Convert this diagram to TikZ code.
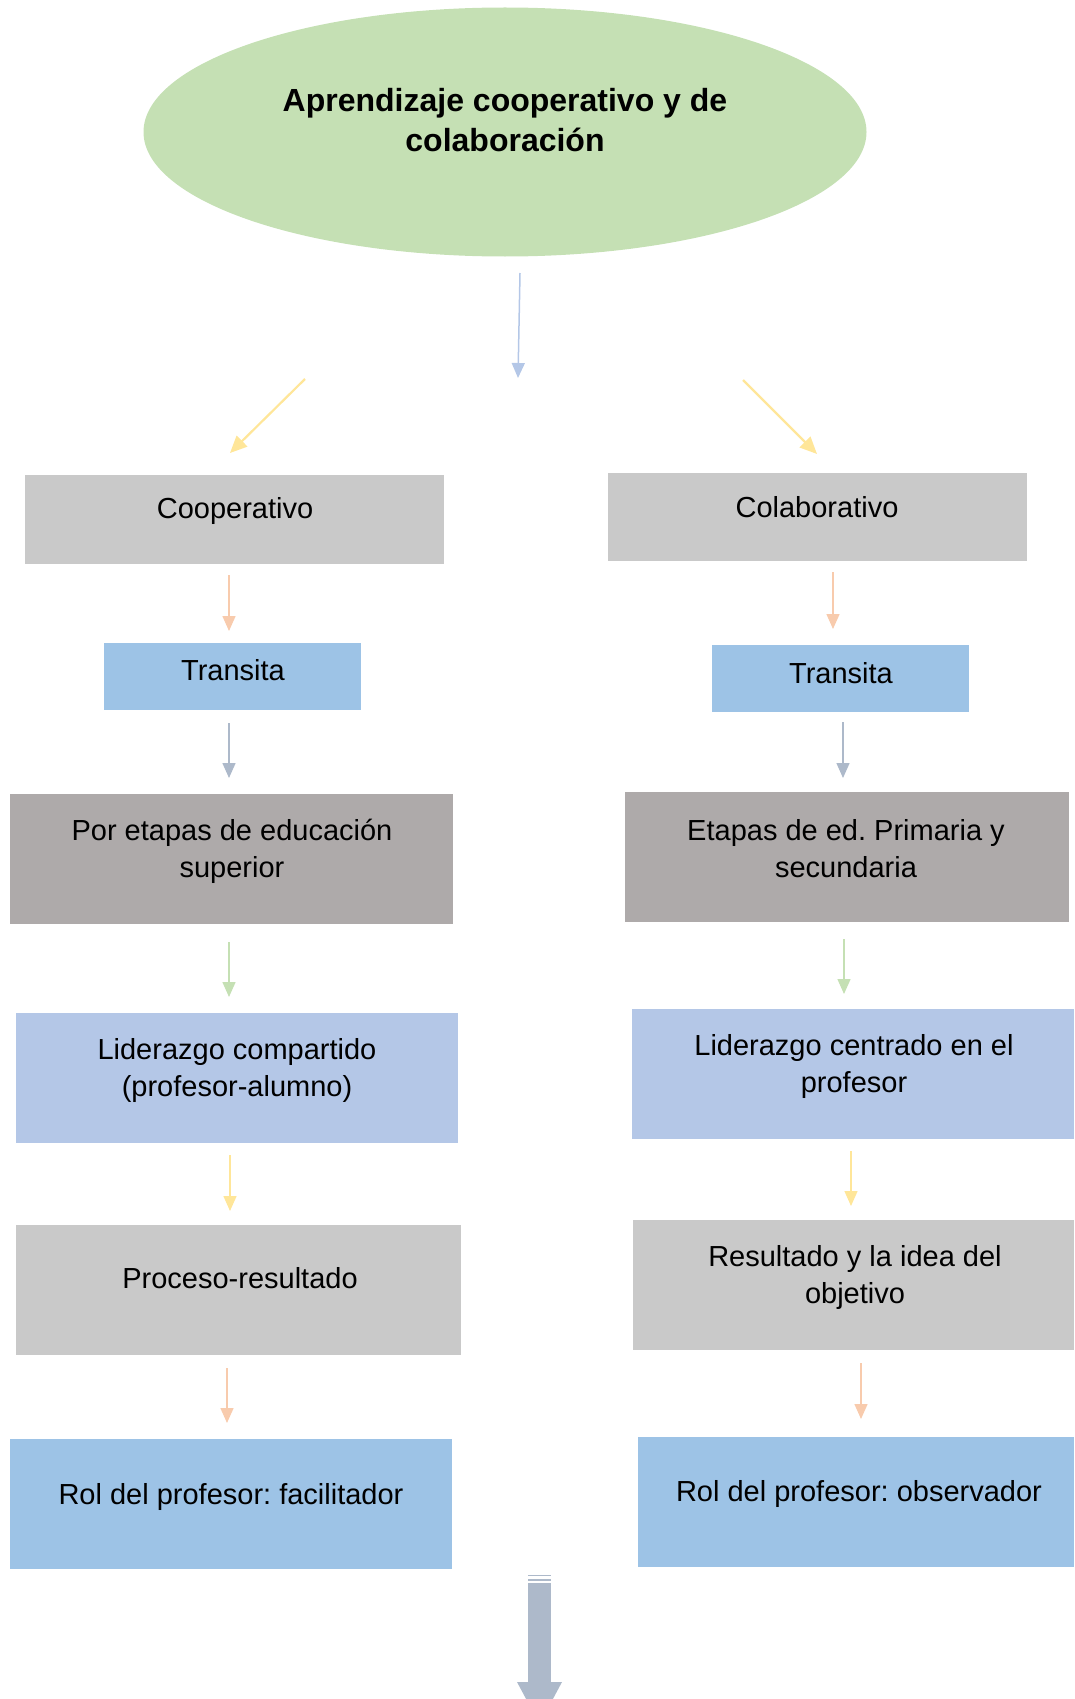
\documentclass[tikz,border=0pt]{standalone}
\usepackage{fontspec}
\setmainfont{Liberation Sans}
\frenchspacing
\usetikzlibrary{shapes.geometric,arrows.meta}
\definecolor{cgreen}{HTML}{C5E0B4}
\definecolor{cgrey}{HTML}{C9C9C9}
\definecolor{cblue}{HTML}{9DC3E6}
\definecolor{cdgrey}{HTML}{AEAAAA}
\definecolor{clblue}{HTML}{B4C7E7}
\definecolor{cyellow}{HTML}{FFE699}
\definecolor{cpeach}{HTML}{F8CBAD}
\definecolor{cgb}{HTML}{ADB9CA}
\tikzset{
  boxnode/.style={draw=none,inner sep=0pt,anchor=north west},
  txt/.style={font=\fontsize{29}{37}\selectfont\frenchspacing,align=center,inner sep=0pt,text=black},
  arr/.style={line width=1.5pt,-{Triangle[length=15pt,width=13pt]}},
  darr/.style={line width=2.2pt,-{Triangle[length=17pt,width=15pt]}}
}
\begin{document}
\begin{tikzpicture}[x=1pt,y=-1pt]
\useasboundingbox (0,0) rectangle (1074,1699);
% title
\node[ellipse,fill=cgreen,minimum width=723pt,minimum height=249pt,inner sep=0pt] (top) at (505,132) {};
\node[font=\fontsize{32}{40}\selectfont\bfseries,align=center,inner sep=0pt] (toptxt) at (505,120) {Aprendizaje cooperativo y de\\colaboración};
% arrows from title
\coordinate (m1) at (520,273); \coordinate (m2) at (518,378);
\draw[arr,draw=clblue,fill=clblue] (m1) -- (m2);
\coordinate (l1) at (305,379); \coordinate (l2) at (230,453);
\draw[darr,draw=cyellow,fill=cyellow] (l1) -- (l2);
\coordinate (r1) at (743,380); \coordinate (r2) at (817,454);
\draw[darr,draw=cyellow,fill=cyellow] (r1) -- (r2);
% row 1
\node[boxnode,fill=cgrey,minimum width=419pt,minimum height=89pt] (coop) at (25,475) {};
\node[txt] (cooptxt) at (235,511) {Cooperativo};
\node[boxnode,fill=cgrey,minimum width=419pt,minimum height=88pt] (cola) at (608,473) {};
\node[txt] (colatxt) at (817,507) {Colaborativo};
% arrows
\coordinate (a1) at (229,575); \coordinate (a2) at (229,631);
\draw[arr,draw=cpeach,fill=cpeach] (a1) -- (a2);
\coordinate (b1) at (833,572); \coordinate (b2) at (833,629);
\draw[arr,draw=cpeach,fill=cpeach] (b1) -- (b2);
% row 2
\node[boxnode,fill=cblue,minimum width=257pt,minimum height=67pt] (trl) at (104,643) {};
\node[txt] (trltxt) at (233,670) {Transita};
\node[boxnode,fill=cblue,minimum width=257pt,minimum height=67pt] (trr) at (712,645) {};
\node[txt] (trrtxt) at (841,673) {Transita};
% arrows
\coordinate (c1) at (229,723); \coordinate (c2) at (229,778);
\draw[arr,draw=cgb,fill=cgb] (c1) -- (c2);
\coordinate (d1) at (843,722); \coordinate (d2) at (843,778);
\draw[arr,draw=cgb,fill=cgb] (d1) -- (d2);
% row 3
\node[boxnode,fill=cdgrey,minimum width=443pt,minimum height=130pt] (etl) at (10,794) {};
\node[txt] (etltxt) at (232,851) {Por etapas de educación\\superior};
\node[boxnode,fill=cdgrey,minimum width=444pt,minimum height=130pt] (etr) at (625,792) {};
\node[txt] (etrtxt) at (846,849) {Etapas de ed. Primaria y\\secundaria};
% arrows
\coordinate (e1) at (229,942); \coordinate (e2) at (229,997);
\draw[arr,draw=cgreen,fill=cgreen] (e1) -- (e2);
\coordinate (f1) at (844,939); \coordinate (f2) at (844,994);
\draw[arr,draw=cgreen,fill=cgreen] (f1) -- (f2);
% row 4
\node[boxnode,fill=clblue,minimum width=442pt,minimum height=130pt] (lil) at (16,1013) {};
\node[txt] (liltxt) at (237,1070) {Liderazgo compartido\\(profesor-alumno)};
\node[boxnode,fill=clblue,minimum width=442pt,minimum height=130pt] (lir) at (632,1009) {};
\node[txt] (lirtxt) at (854,1066) {Liderazgo centrado en el\\profesor};
% arrows
\coordinate (g1) at (230,1155); \coordinate (g2) at (230,1211);
\draw[arr,draw=cyellow,fill=cyellow] (g1) -- (g2);
\coordinate (h1) at (851,1151); \coordinate (h2) at (851,1206);
\draw[arr,draw=cyellow,fill=cyellow] (h1) -- (h2);
% row 5
\node[boxnode,fill=cgrey,minimum width=445pt,minimum height=130pt] (prl) at (16,1225) {};
\node[txt] (prltxt) at (240,1278) {Proceso-resultado};
\node[boxnode,fill=cgrey,minimum width=441pt,minimum height=130pt] (prr) at (633,1220) {};
\node[txt] (prrtxt) at (855,1277) {Resultado y la idea del\\objetivo};
% arrows
\coordinate (i1) at (227,1368); \coordinate (i2) at (227,1423);
\draw[arr,draw=cpeach,fill=cpeach] (i1) -- (i2);
\coordinate (j1) at (861,1363); \coordinate (j2) at (861,1419);
\draw[arr,draw=cpeach,fill=cpeach] (j1) -- (j2);
% row 6
\node[boxnode,fill=cblue,minimum width=442pt,minimum height=130pt] (rol) at (10,1439) {};
\node[txt] (roltxt) at (231,1497) {Rol del profesor: facilitador};
\node[boxnode,fill=cblue,minimum width=436pt,minimum height=130pt] (ror) at (638,1437) {};
\node[txt] (rortxt) at (859,1494) {Rol del profesor: observador};
% big arrow
\fill[cgb] (528,1575) rectangle (551,1576);
\fill[cgb] (528,1578.7) rectangle (551,1580.7);
\fill[cgb] (528,1582.7) rectangle (551,1682);
\fill[cgb] (517,1682) -- (562,1682) -- (539.5,1724) -- cycle;
\end{tikzpicture}
\end{document}
